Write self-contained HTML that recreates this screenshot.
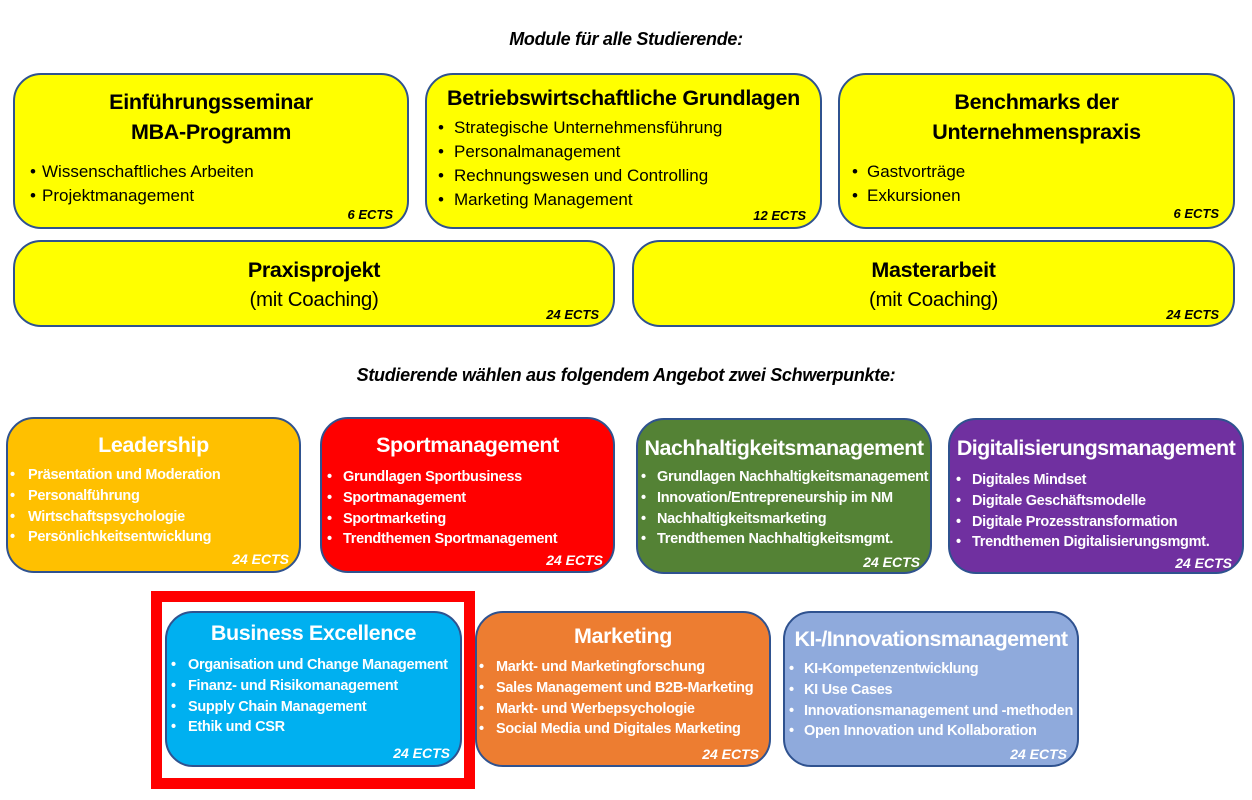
<!DOCTYPE html>
<html><head><meta charset="utf-8"><style>
*{margin:0;padding:0;box-sizing:border-box}
body{width:1252px;height:800px;background:#fff;position:relative;overflow:hidden;font-family:"Liberation Sans",sans-serif}
.b{position:absolute;border:2px solid #2F528F;border-radius:28px}
.y{background:#FFFF00;color:#000}
.t{position:absolute;left:0;right:0;text-align:center;white-space:nowrap;line-height:30px;height:30px}
.i{position:absolute;white-space:nowrap;line-height:22px;height:22px}
.e{position:absolute;font-weight:bold;font-style:italic;white-space:nowrap;line-height:20px;height:20px}
.c{color:#fff}
.c .t{font-weight:bold;font-size:21.5px;letter-spacing:-0.4px}
.c .i{font-weight:bold;font-size:14.5px;letter-spacing:-0.3px}
.c .e{font-size:14px;right:10px}
.y .t{font-weight:bold;font-size:21.5px;letter-spacing:-0.3px}
.y .i{font-size:17px}
.y .e{font-size:13px;right:14px}
.h{position:absolute;left:0;width:1252px;text-align:center;font-weight:bold;font-style:italic;font-size:18px;letter-spacing:-0.3px}
</style></head><body>
<div class="h" style="top:29px">Module für alle Studierende:</div>
<div class="h" style="top:365px">Studierende wählen aus folgendem Angebot zwei Schwerpunkte:</div>

<div class="b y" style="left:13px;top:73px;width:396px;height:156px">
<div class="t" style="top:12px">Einführungsseminar</div>
<div class="t" style="top:42px">MBA-Programm</div>
<div class="i" style="left:15px;top:86px">•</div><div class="i" style="left:27px;top:86px">Wissenschaftliches Arbeiten</div>
<div class="i" style="left:15px;top:110px">•</div><div class="i" style="left:27px;top:110px">Projektmanagement</div>
<div class="e" style="top:130px">6 ECTS</div>
</div>
<div class="b y" style="left:425px;top:73px;width:397px;height:156px">
<div class="t" style="top:8px">Betriebswirtschaftliche Grundlagen</div>
<div class="i" style="left:11px;top:42px">•</div><div class="i" style="left:27px;top:42px">Strategische Unternehmensführung</div>
<div class="i" style="left:11px;top:66px">•</div><div class="i" style="left:27px;top:66px">Personalmanagement</div>
<div class="i" style="left:11px;top:90px">•</div><div class="i" style="left:27px;top:90px">Rechnungswesen und Controlling</div>
<div class="i" style="left:11px;top:114px">•</div><div class="i" style="left:27px;top:114px">Marketing Management</div>
<div class="e" style="top:131px">12 ECTS</div>
</div>
<div class="b y" style="left:838px;top:73px;width:397px;height:156px">
<div class="t" style="top:12px">Benchmarks der</div>
<div class="t" style="top:42px">Unternehmenspraxis</div>
<div class="i" style="left:12px;top:86px">•</div><div class="i" style="left:27px;top:86px">Gastvorträge</div>
<div class="i" style="left:12px;top:110px">•</div><div class="i" style="left:27px;top:110px">Exkursionen</div>
<div class="e" style="top:129px">6 ECTS</div>
</div>
<div class="b y" style="left:13px;top:240px;width:602px;height:87px">
<div class="t" style="top:13px">Praxisprojekt</div>
<div class="t" style="top:43px;font-weight:normal;font-size:20.5px">(mit Coaching)</div>
<div class="e" style="top:63px">24 ECTS</div>
</div>
<div class="b y" style="left:632px;top:240px;width:603px;height:87px">
<div class="t" style="top:13px">Masterarbeit</div>
<div class="t" style="top:43px;font-weight:normal;font-size:20.5px">(mit Coaching)</div>
<div class="e" style="top:63px">24 ECTS</div>
</div>

<div class="b c" style="left:6px;top:417px;width:295px;height:156px;background:#FFC000">
<div class="t" style="top:11px">Leadership</div>
<div class="i" style="left:2px;top:45px">•</div><div class="i" style="left:20px;top:45px">Präsentation und Moderation</div>
<div class="i" style="left:2px;top:66px">•</div><div class="i" style="left:20px;top:66px">Personalführung</div>
<div class="i" style="left:2px;top:87px">•</div><div class="i" style="left:20px;top:87px">Wirtschaftspsychologie</div>
<div class="i" style="left:2px;top:107px">•</div><div class="i" style="left:20px;top:107px">Persönlichkeitsentwicklung</div>
<div class="e" style="top:130px">24 ECTS</div>
</div>
<div class="b c" style="left:320px;top:417px;width:295px;height:156px;background:#FF0000">
<div class="t" style="top:11px">Sportmanagement</div>
<div class="i" style="left:5px;top:47px">•</div><div class="i" style="left:21px;top:47px">Grundlagen Sportbusiness</div>
<div class="i" style="left:5px;top:68px">•</div><div class="i" style="left:21px;top:68px">Sportmanagement</div>
<div class="i" style="left:5px;top:89px">•</div><div class="i" style="left:21px;top:89px">Sportmarketing</div>
<div class="i" style="left:5px;top:109px">•</div><div class="i" style="left:21px;top:109px">Trendthemen Sportmanagement</div>
<div class="e" style="top:131px">24 ECTS</div>
</div>
<div class="b c" style="left:636px;top:418px;width:296px;height:156px;background:#548235">
<div class="t" style="top:13px;letter-spacing:-0.5px">Nachhaltigkeitsmanagement</div>
<div class="i" style="left:3px;top:46px">•</div><div class="i" style="left:19px;top:46px">Grundlagen Nachhaltigkeitsmanagement</div>
<div class="i" style="left:3px;top:67px">•</div><div class="i" style="left:19px;top:67px">Innovation/Entrepreneurship im NM</div>
<div class="i" style="left:3px;top:88px">•</div><div class="i" style="left:19px;top:88px">Nachhaltigkeitsmarketing</div>
<div class="i" style="left:3px;top:108px">•</div><div class="i" style="left:19px;top:108px">Trendthemen Nachhaltigkeitsmgmt.</div>
<div class="e" style="top:132px">24 ECTS</div>
</div>
<div class="b c" style="left:948px;top:418px;width:296px;height:156px;background:#7030A0">
<div class="t" style="top:13px;letter-spacing:-0.6px">Digitalisierungsmanagement</div>
<div class="i" style="left:6px;top:49px">•</div><div class="i" style="left:22px;top:49px">Digitales Mindset</div>
<div class="i" style="left:6px;top:70px">•</div><div class="i" style="left:22px;top:70px">Digitale Geschäftsmodelle</div>
<div class="i" style="left:6px;top:91px">•</div><div class="i" style="left:22px;top:91px">Digitale Prozesstransformation</div>
<div class="i" style="left:6px;top:111px">•</div><div class="i" style="left:22px;top:111px">Trendthemen Digitalisierungsmgmt.</div>
<div class="e" style="top:133px">24 ECTS</div>
</div>

<div style="position:absolute;left:151px;top:591px;width:324px;height:198px;border:11px solid #FF0000"></div>
<div class="b c" style="left:165px;top:611px;width:297px;height:156px;background:#00B0F0">
<div class="t" style="top:5px">Business Excellence</div>
<div class="i" style="left:4px;top:41px">•</div><div class="i" style="left:21px;top:41px">Organisation und Change Management</div>
<div class="i" style="left:4px;top:62px">•</div><div class="i" style="left:21px;top:62px">Finanz- und Risikomanagement</div>
<div class="i" style="left:4px;top:83px">•</div><div class="i" style="left:21px;top:83px">Supply Chain Management</div>
<div class="i" style="left:4px;top:103px">•</div><div class="i" style="left:21px;top:103px">Ethik und CSR</div>
<div class="e" style="top:130px">24 ECTS</div>
</div>
<div class="b c" style="left:475px;top:611px;width:296px;height:156px;background:#ED7D31">
<div class="t" style="top:8px">Marketing</div>
<div class="i" style="left:2px;top:43px">•</div><div class="i" style="left:19px;top:43px">Markt- und Marketingforschung</div>
<div class="i" style="left:2px;top:64px">•</div><div class="i" style="left:19px;top:64px">Sales Management und B2B-Marketing</div>
<div class="i" style="left:2px;top:85px">•</div><div class="i" style="left:19px;top:85px">Markt- und Werbepsychologie</div>
<div class="i" style="left:2px;top:105px">•</div><div class="i" style="left:19px;top:105px">Social Media und Digitales Marketing</div>
<div class="e" style="top:131px">24 ECTS</div>
</div>
<div class="b c" style="left:783px;top:611px;width:296px;height:156px;background:#8FAADC">
<div class="t" style="top:11px;letter-spacing:-0.6px">KI-/Innovationsmanagement</div>
<div class="i" style="left:4px;top:45px">•</div><div class="i" style="left:19px;top:45px">KI-Kompetenzentwicklung</div>
<div class="i" style="left:4px;top:66px">•</div><div class="i" style="left:19px;top:66px">KI Use Cases</div>
<div class="i" style="left:4px;top:87px">•</div><div class="i" style="left:19px;top:87px">Innovationsmanagement und -methoden</div>
<div class="i" style="left:4px;top:107px">•</div><div class="i" style="left:19px;top:107px">Open Innovation und Kollaboration</div>
<div class="e" style="top:131px">24 ECTS</div>
</div>
</body></html>
